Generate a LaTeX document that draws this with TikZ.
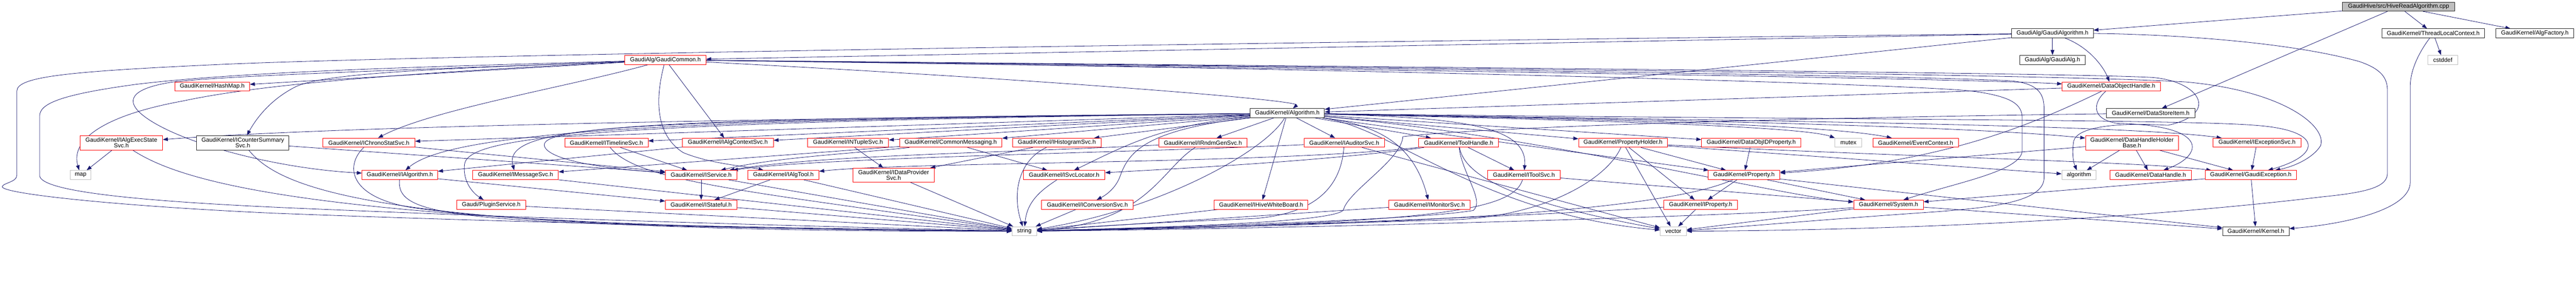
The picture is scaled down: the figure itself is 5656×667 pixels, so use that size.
\documentclass[tikz,border=0pt]{standalone}
\usepackage{fontspec}
\setmainfont{Liberation Sans}
\usetikzlibrary{arrows.meta}
\definecolor{edgec}{RGB}{25,25,112}
\definecolor{grayb}{RGB}{191,191,191}
\pgfdeclarelayer{bg}
\pgfsetlayers{bg,main}
\begin{document}
\begin{tikzpicture}[x=1pt,y=-1pt,
  nd/.style={draw, line width=1pt, inner sep=0pt, minimum height=20pt, fill=white, font=\fontsize{13}{12.5}\selectfont, align=center},
  rd/.style={nd, draw=red},
  bk/.style={nd, draw=black!85},
  gy/.style={nd, draw=grayb},
  rt/.style={nd, draw=black!85, fill=grayb},
  tl/.style={minimum height=31.7pt},
  wd/.style={minimum width=#1},
  e/.style={draw=edgec, line width=0.9pt, -{Triangle[length=11pt,width=8pt]}},
]
\useasboundingbox (0,0) rectangle (5656,667);
% row 1-2
\node[rt, wd=247pt] (root) at (5266.5,14.5) {GaudiHive/src/HiveReadAlgorithm.cpp};
\node[bk, wd=179pt] (galgo) at (4506.5,73.2) {GaudiAlg/GaudiAlgorithm.h};
\node[bk, wd=225pt] (tlc) at (5342.5,73.2) {GaudiKernel/ThreadLocalContext.h};
\node[bk, wd=171pt] (algfac) at (5565.5,73.2) {GaudiKernel/AlgFactory.h};
% row 3
\node[rd, wd=178pt] (gc) at (1461,131.5) {GaudiAlg/GaudiCommon.h};
\node[bk, wd=143pt] (galg) at (4506.5,131.5) {GaudiAlg/GaudiAlg.h};
\node[gy, wd=65pt] (cstddef) at (5363.5,131.5) {cstddef};
% row 4
\node[rd, wd=164pt] (hashmap) at (466,190) {GaudiKernel/HashMap.h};
\node[rd, wd=215pt] (doh) at (4635.5,190) {GaudiKernel/DataObjectHandle.h};
% row 5
\node[bk, wd=163pt] (alg) at (2826.5,248.5) {GaudiKernel/Algorithm.h};
\node[bk, wd=194pt] (dsi) at (4722,248.5) {GaudiKernel/DataStoreItem.h};
% row 6
\node[rd, tl, wd=181pt] (iaexs) at (266.5,313.5) {GaudiKernel/IAlgExecState\\Svc.h};
\node[bk, tl, wd=202pt] (icsum) at (533,313.5) {GaudiKernel/ICounterSummary\\Svc.h};
\node[rd, wd=202pt] (ichrono) at (810,313.3) {GaudiKernel/IChronoStatSvc.h};
\node[rd, wd=183pt] (itime) at (1331.5,313.3) {GaudiKernel/ITimelineSvc.h};
\node[rd, wd=200pt] (iactx) at (1598,313.3) {GaudiKernel/IAlgContextSvc.h};
\node[rd, wd=178pt] (intup) at (1862,313.3) {GaudiKernel/INTupleSvc.h};
\node[rd, wd=225pt] (cmsg) at (2087.5,313.3) {GaudiKernel/CommonMessaging.h};
\node[rd, wd=195pt] (ihist) at (2320.5,313.3) {GaudiKernel/IHistogramSvc.h};
\node[rd, wd=194pt] (irndm) at (2641,313.3) {GaudiKernel/IRndmGenSvc.h};
\node[rd, wd=177pt] (iaud) at (2951.5,313.3) {GaudiKernel/IAuditorSvc.h};
\node[rd, wd=175pt] (toolh) at (3202.5,313.3) {GaudiKernel/ToolHandle.h};
\node[rd, wd=195pt] (pholder) at (3563.5,313.3) {GaudiKernel/PropertyHolder.h};
\node[rd, wd=218pt] (doid) at (3845,313.3) {GaudiKernel/DataObjIDProperty.h};
\node[gy, wd=59pt] (mutex) at (4058.5,313.3) {mutex};
\node[rd, wd=188pt] (evctx) at (4206,313.3) {GaudiKernel/EventContext.h};
\node[rd, tl, wd=204pt] (dhhb) at (4681,313.5) {GaudiKernel/DataHandleHolder\\Base.h};
\node[rd, wd=193pt] (iexc) at (4955.5,313.3) {GaudiKernel/IExceptionSvc.h};
% row 7
\node[gy, wd=46pt] (map) at (177,384.3) {map};
\node[rd, wd=166pt] (ialgo) at (878,384.3) {GaudiKernel/IAlgorithm.h};
\node[rd, wd=188pt] (imsg) at (1132,384.3) {GaudiKernel/IMessageSvc.h};
\node[rd, wd=157pt] (isvc) at (1539.5,384.3) {GaudiKernel/IService.h};
\node[rd, wd=156pt] (ialgtool) at (1720,384.3) {GaudiKernel/IAlgTool.h};
\node[rd, wd=178pt, minimum height=31pt] (idp) at (1962,384.5) {GaudiKernel/IDataProvider\\Svc.h};
\node[rd, wd=179pt] (isvcloc) at (2336.5,384.3) {GaudiKernel/ISvcLocator.h};
\node[rd, wd=160pt] (itoolsvc) at (3346,384.3) {GaudiKernel/IToolSvc.h};
\node[rd, wd=158pt] (prop) at (3829,384.3) {GaudiKernel/Property.h};
\node[gy, wd=75pt] (algo) at (4564.5,384.3) {algorithm};
\node[rd, wd=178pt] (dh) at (4722,384.3) {GaudiKernel/DataHandle.h};
\node[rd, wd=200pt] (gexc) at (4942,384.3) {GaudiKernel/GaudiException.h};
% row 8
\node[rd, wd=151pt] (plugin) at (1078.5,449.3) {Gaudi/PluginService.h};
\node[rd, wd=157pt] (istate) at (1539.5,449.3) {GaudiKernel/IStateful.h};
\node[rd, wd=201pt] (iconv) at (2387.5,449.3) {GaudiKernel/IConversionSvc.h};
\node[rd, wd=206pt] (ihive) at (2769,449.3) {GaudiKernel/IHiveWhiteBoard.h};
\node[rd, wd=179pt] (imon) at (3138.5,449.3) {GaudiKernel/IMonitorSvc.h};
\node[rd, wd=162pt] (iprop) at (3734,449.3) {GaudiKernel/IProperty.h};
\node[rd, wd=153pt] (system) at (4146.5,449.3) {GaudiKernel/System.h};
% row 9
\node[gy, wd=54pt] (string) at (2249,507.7) {string};
\node[gy, wd=58pt] (vector) at (3674,507.7) {vector};
\node[bk, wd=146pt] (kernel) at (4953,507.7) {GaudiKernel/Kernel.h};

\begin{pgfonlayer}{bg}
% root
\draw[e] (root) -- (galgo);
\draw[e] (root) -- (tlc);
\draw[e] (root) -- (algfac);
\draw[e] (root) -- (dsi);
% GaudiAlgorithm
\draw[e] (galgo) -- (galg);
\draw[e] (galgo) .. controls (4590,105) and (4620,150) .. (doh);
\draw[e] (galgo) -- (gc);
\draw[e] (galgo) -- (alg);
\draw[e] (galgo) .. controls (2600,95) and (900,122) .. (472,142) .. controls (150,157) and (37,168) .. (37,200) -- (37,385) .. controls (37,400) and (5,402) .. (5,410) .. controls (5,425) and (250,452) .. (600,468) .. controls (1300,495) and (1900,503) .. (string);
\draw[e] (galgo) .. controls (4700,74) and (5000,85) .. (5180,135) .. controls (5230,152) and (5242,172) .. (5242,200) -- (5242,380) .. controls (5242,410) and (5200,422) .. (5100,432) .. controls (4700,480) and (4200,505) .. (vector);
% ThreadLocalContext
\draw[e] (tlc) -- (cstddef);
\draw[e] (tlc) .. controls (5315,110) and (5292,150) .. (5292,190) -- (5292,400) .. controls (5292,460) and (5150,492) .. (kernel);
% GaudiCommon
\draw[e] (gc) -- (hashmap);
\draw[e] (gc) .. controls (800,165) and (550,190) .. (400,222) .. controls (220,255) and (155,310) .. (map);
\draw[e] (gc) .. controls (1000,145) and (550,155) .. (300,185) .. controls (130,208) and (87,228) .. (87,255) -- (87,385) .. controls (87,420) and (300,442) .. (650,457) .. controls (1300,485) and (1900,500) .. (string);
\draw[e] (gc) .. controls (1000,150) and (500,165) .. (380,180) .. controls (300,192) and (270,215) .. (310,250) .. controls (380,310) and (600,370) .. (ialgo);
\draw[e] (gc) .. controls (1000,150) and (720,158) .. (650,190) .. controls (590,220) and (560,265) .. (icsum);
\draw[e] (gc) .. controls (1250,190) and (950,240) .. (ichrono);
\draw[e] (gc) -- (iactx);
\draw[e] (gc) .. controls (1435,230) and (1445,300) .. (1500,335) .. controls (1560,360) and (1640,365) .. (ialgtool);
\draw[e] (gc) .. controls (3000,152) and (4300,172) .. (doh);
\draw[e] (gc) .. controls (2300,175) and (2860,220) .. (alg);
\draw[e] (gc) .. controls (3000,148) and (4500,162) .. (4800,180) .. controls (5020,200) and (5110,280) .. (5095,320) .. controls (5080,345) and (5040,365) .. (gexc);
\draw[e] (gc) .. controls (3000,146) and (4550,160) .. (4725,170) .. controls (4830,178) and (4875,250) .. (4760,275) .. controls (4640,268) and (4560,280) .. (4553,310) .. controls (4549,335) and (4552,355) .. (algo);
\draw[e] (gc) .. controls (3000,150) and (4200,185) .. (4330,200) .. controls (4420,212) and (4440,230) .. (4440,260) -- (4440,330) .. controls (4440,375) and (4300,400) .. (system);
\draw[e] (gc) .. controls (3000,148) and (4300,168) .. (4420,178) .. controls (4480,185) and (4488,210) .. (4488,240) -- (4488,390) .. controls (4488,442) and (4380,455) .. (4250,465) .. controls (4000,482) and (3800,500) .. (vector);
% DataObjectHandle
\draw[e] (doh) -- (alg);
\draw[e] (doh) .. controls (4595,225) and (4590,262) .. (4650,271) .. controls (4850,275) and (4840,340) .. (dh);
\draw[e] (doh) .. controls (4450,280) and (4250,360) .. (prop);
% DataStoreItem
\draw[e] (dsi) .. controls (3700,262) and (3200,285) .. (3080,300) .. controls (3078,350) and (2960,420) .. (2950,460) .. controls (2940,490) and (2500,500) .. (string);
% Algorithm
\draw[e] (alg) .. controls (1500,262) and (700,280) .. (iaexs);
\draw[e] (alg) -- (ichrono);
\draw[e] (alg) -- (itime);
\draw[e] (alg) -- (iactx);
\draw[e] (alg) -- (intup);
\draw[e] (alg) -- (cmsg);
\draw[e] (alg) -- (ihist);
\draw[e] (alg) -- (irndm);
\draw[e] (alg) -- (iaud);
\draw[e] (alg) -- (toolh);
\draw[e] (alg) -- (pholder);
\draw[e] (alg) -- (doid);
\draw[e] (alg) .. controls (3400,262) and (3950,275) .. (mutex);
\draw[e] (alg) .. controls (3500,262) and (4000,272) .. (evctx);
\draw[e] (alg) .. controls (3600,262) and (4300,275) .. (dhhb);
\draw[e] (alg) .. controls (3800,265) and (4650,272) .. (iexc);
\draw[e] (alg) .. controls (3900,262) and (4800,262) .. (4950,275) .. controls (5100,285) and (5100,340) .. (gexc);
\draw[e] (alg) .. controls (1600,262) and (1000,280) .. (ialgo);
\draw[e] (alg) .. controls (1400,262) and (1100,270) .. (imsg);
\draw[e] (alg) .. controls (1600,264) and (1185,270) .. (1195,320) .. controls (1205,355) and (1350,372) .. (isvc);
\draw[e] (alg) .. controls (2550,275) and (2470,320) .. (isvcloc);
\draw[e] (alg) .. controls (2520,285) and (2480,330) .. (2460,385) .. controls (2450,415) and (2425,430) .. (iconv);
\draw[e] (alg) -- (ihive);
\draw[e] (alg) .. controls (3030,275) and (3105,320) .. (imon);
\draw[e] (alg) .. controls (3200,258) and (3355,275) .. (itoolsvc);
\draw[e] (alg) -- (prop);
\draw[e] (alg) .. controls (1300,268) and (1030,300) .. (1020,360) .. controls (1015,400) and (1040,425) .. (plugin);
\draw[e] (alg) .. controls (3400,300) and (3900,430) .. (system);
\draw[e] (alg) .. controls (2780,330) and (2550,460) .. (string);
\draw[e] (alg) .. controls (3060,280) and (3250,470) .. (vector);
% row 6
\draw[e] (iaexs) -- (map);
\draw[e] (iaexs) .. controls (400,400) and (700,500) .. (string);
\draw[e] (icsum) .. controls (620,420) and (850,510) .. (string);
\draw[e] (icsum) -- (isvc);
\draw[e] (ichrono) -- (isvc);
\draw[e] (ichrono) .. controls (760,360) and (760,430) .. (900,455) .. controls (1200,500) and (1900,505) .. (string);
\draw[e] (itime) -- (isvc);
\draw[e] (itime) .. controls (1400,400) and (1650,420) .. (string);
\draw[e] (iactx) -- (ialgo);
\draw[e] (intup) -- (idp);
\draw[e] (cmsg) -- (imsg);
\draw[e] (cmsg) -- (isvcloc);
\draw[e] (cmsg) .. controls (1900,335) and (1700,345) .. (isvc);
\draw[e] (ihist) -- (idp);
\draw[e] (ihist) .. controls (2240,350) and (2220,420) .. (string);
\draw[e] (irndm) .. controls (2550,370) and (2520,490) .. (string);
\draw[e] (irndm) .. controls (2200,336) and (1800,340) .. (isvc);
\draw[e] (iaud) .. controls (2945,400) and (2900,470) .. (2750,480) .. controls (2500,490) and (2350,500) .. (string);
\draw[e] (iaud) .. controls (2500,335) and (1800,345) .. (isvc);
\draw[e] (iaud) -- (vector);
\draw[e] (toolh) -- (itoolsvc);
\draw[e] (toolh) .. controls (2800,360) and (2000,355) .. (ialgtool);
\draw[e] (toolh) .. controls (3210,380) and (3260,440) .. (3235,462) .. controls (3100,485) and (2500,500) .. (string);
\draw[e] (toolh) .. controls (3215,380) and (3300,440) .. (vector);
\draw[e] (toolh) .. controls (2900,355) and (2550,372) .. (isvcloc);
\draw[e] (pholder) .. controls (3530,390) and (3400,472) .. (3200,482) .. controls (2800,495) and (2400,503) .. (string);
\draw[e] (pholder) -- (vector);
\draw[e] (pholder) -- (iprop);
\draw[e] (pholder) -- (prop);
\draw[e] (pholder) -- (algo);
\draw[e] (pholder) .. controls (4200,345) and (4700,355) .. (gexc);
\draw[e] (doid) -- (prop);
\draw[e] (dhhb) -- (algo);
\draw[e] (dhhb) -- (dh);
\draw[e] (dhhb) -- (gexc);
\draw[e] (dhhb) -- (prop);
\draw[e] (iexc) -- (gexc);
% row 7
\draw[e] (ialgo) -- (istate);
\draw[e] (ialgo) .. controls (870,480) and (1000,495) .. (string);
\draw[e] (imsg) -- (string);
\draw[e] (isvc) -- (istate);
\draw[e] (isvc) -- (string);
\draw[e] (ialgtool) -- (istate);
\draw[e] (ialgtool) -- (string);
\draw[e] (idp) -- (string);
\draw[e] (isvcloc) .. controls (2290,415) and (2255,440) .. (string);
\draw[e] (itoolsvc) .. controls (3320,470) and (3100,490) .. (string);
\draw[e] (itoolsvc) -- (system);
\draw[e] (prop) -- (iprop);
\draw[e] (prop) -- (system);
\draw[e] (prop) -- (kernel);
\draw[e] (prop) .. controls (3700,440) and (3400,490) .. (string);
\draw[e] (gexc) -- (kernel);
\draw[e] (gexc) -- (system);
% row 8
\draw[e] (plugin) -- (string);
\draw[e] (istate) -- (string);
\draw[e] (iconv) -- (string);
\draw[e] (ihive) -- (string);
\draw[e] (imon) -- (string);
\draw[e] (iprop) .. controls (3400,472) and (2800,497) .. (string);
\draw[e] (iprop) -- (vector);
\draw[e] (system) -- (kernel);
\draw[e] (system) .. controls (3900,470) and (3000,500) .. (string);
\draw[e] (system) -- (vector);
\end{pgfonlayer}
\end{tikzpicture}
\end{document}
